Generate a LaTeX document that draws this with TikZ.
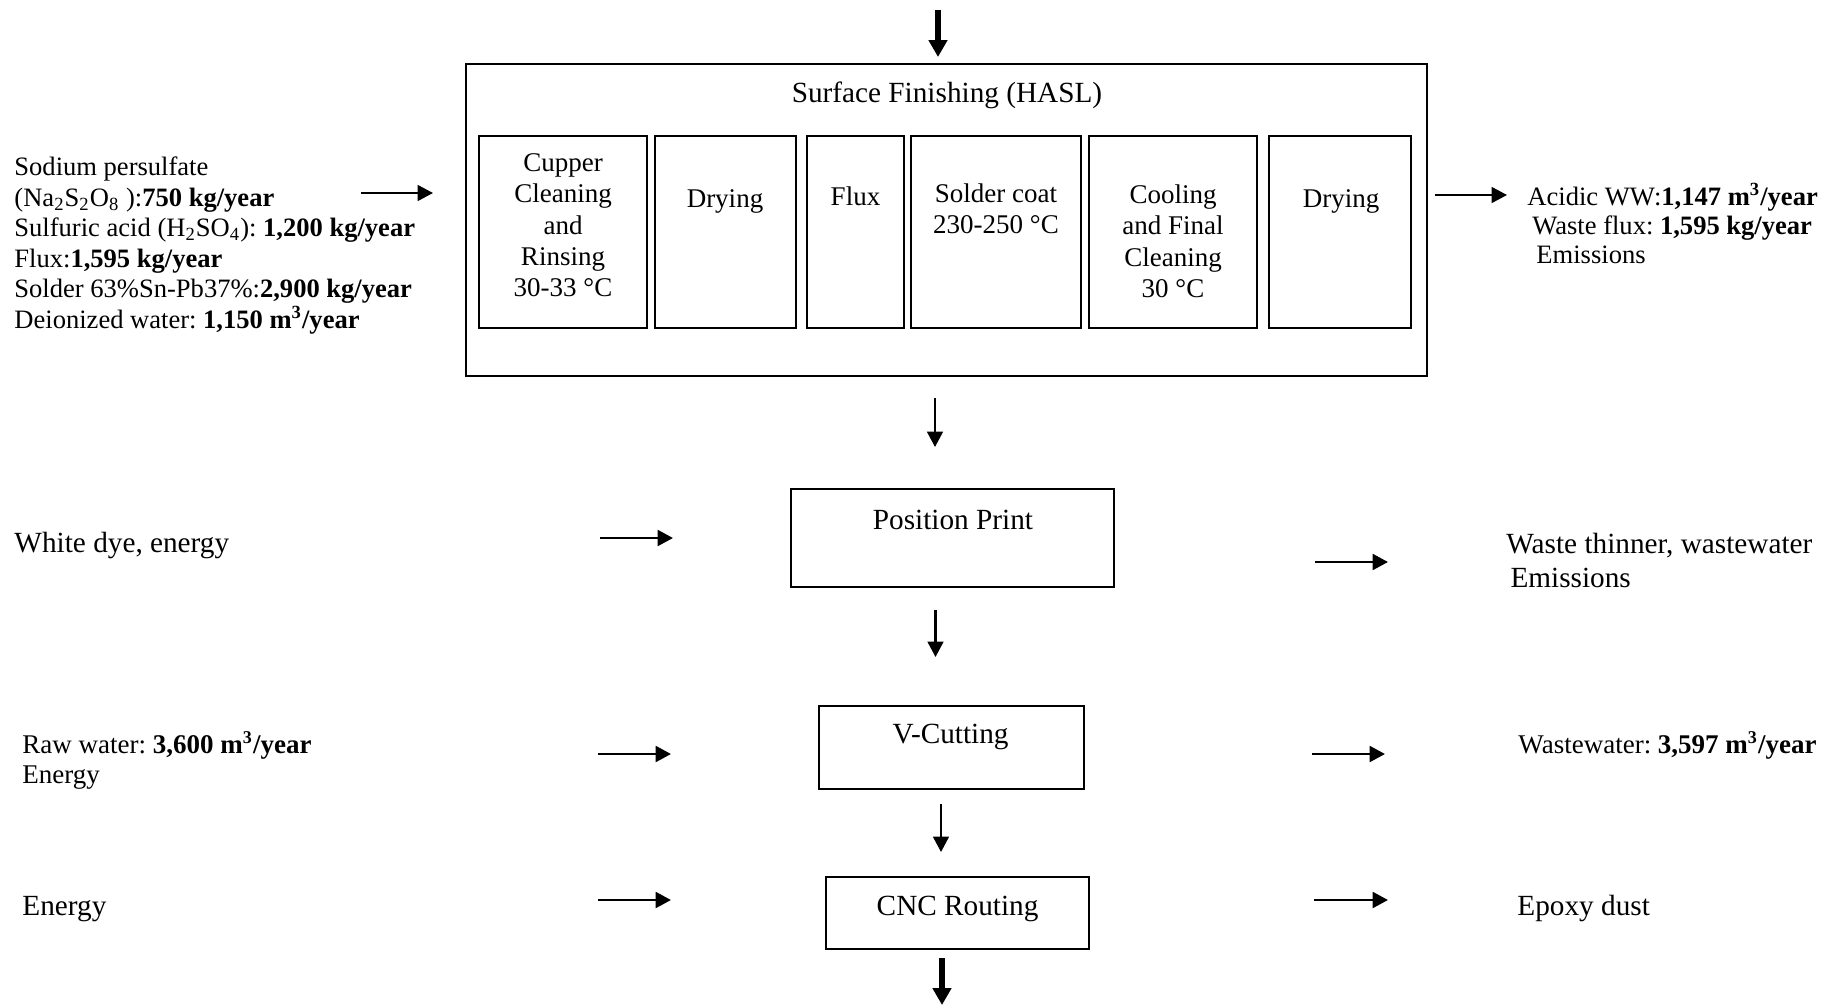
\documentclass[tikz,border=0pt]{standalone}
\usepackage{fontspec}
\setmainfont{Liberation Serif}
\usetikzlibrary{arrows.meta,fit}
\frenchspacing
% struts that fix the height of a first line (12pt and 13pt text)
\newcommand\tstrut{\rule{0pt}{10.5pt}}
\newcommand\bstrut{\rule{0pt}{11.4pt}}
\tikzset{
  frame/.style={draw, line width=1.1pt, inner sep=0pt},
  txt/.style={inner sep=0pt, font=\fontsize{12}{13.8}\selectfont},
  big/.style={inner sep=0pt, font=\fontsize{13}{15}\selectfont},
  flow/.style={line width=0.9pt, -{Triangle[length=6.8pt,width=7pt]}},
  heavy/.style={line width=2.7pt, -{Triangle[length=7.5pt,width=8pt]}},
}
\begin{document}
\begin{tikzpicture}[x=0.4444pt,y=-0.4444pt]
\useasboundingbox (0,0) rectangle (1845,1005);

% ---- Surface finishing (HASL) block ----
\node[frame, fit={(466,64) (1427,376)}] (hasl) {};
\node[big, anchor=base] (haslt) at (947,102) {Surface Finishing (HASL)};

\node[frame, fit={(479,136) (647,328)}]  (s1) {};
\node[frame, fit={(655,136) (796,328)}]  (s2) {};
\node[frame, fit={(807,136) (904,328)}]  (s3) {};
\node[frame, fit={(911,136) (1081,328)}] (s4) {};
\node[frame, fit={(1089,136) (1257,328)}] (s5) {};
\node[frame, fit={(1269,136) (1411,328)}] (s6) {};

\node[txt, align=center, anchor=north, font=\fontsize{12}{13.9}\selectfont] (s1t) at (563,147.4)
  {\tstrut Cupper\\Cleaning\\and\\Rinsing\\30-33 °C};
\node[txt, anchor=base] (s2t) at (725,207) {Drying};
\node[txt, anchor=base] (s3t) at (855.5,205) {Flux};
\node[txt, align=center, anchor=north, font=\fontsize{12}{13.9}\selectfont] (s4t) at (996,178.4)
  {\tstrut Solder coat\\230-250 °C};
\node[txt, align=center, anchor=north, font=\fontsize{12}{13.9}\selectfont] (s5t) at (1173,179.4)
  {\tstrut Cooling\\and Final\\Cleaning\\30 °C};
\node[txt, anchor=base] (s6t) at (1341,207) {Drying};

% inputs and outputs of HASL
\node[txt, align=left, anchor=north west, font=\fontsize{11.8}{13.6}\selectfont] (haslin) at (14,151.4)
  {\tstrut Sodium persulfate\\
   (Na\textsubscript{2}S\textsubscript{2}O\textsubscript{8} ):\textbf{750 kg/year}\\
   Sulfuric acid (H\textsubscript{2}SO\textsubscript{4}): \textbf{1,200 kg/year}\\
   Flux:\textbf{1,595 kg/year}\\
   Solder 63\%Sn-Pb37\%:\textbf{2,900 kg/year}\\
   Deionized water: \textbf{1,150 m\textsuperscript{3}/year}};
\node[txt, align=left, anchor=north west, font=\fontsize{11.8}{13}\selectfont] (haslout) at (1527,181.4)
  {\tstrut Acidic WW:\textbf{1,147 m\textsuperscript{3}/year}\\
   \hspace*{2.2pt}Waste flux: \textbf{1,595 kg/year}\\
   \hspace*{4pt}Emissions};

% ---- Position print ----
\node[frame, fit={(791,489) (1114,587)}] (pp) {};
\node[big, anchor=base] (ppt) at (953,529) {Position Print};
\node[big, anchor=base west] (ppin) at (14,552) {White dye, energy};
\node[big, align=left, anchor=north west, font=\fontsize{13}{14.9}\selectfont] (ppout) at (1506,527.4)
  {\bstrut Waste thinner, wastewater\\\hspace*{1.8pt}Emissions};

% ---- V-cutting ----
\node[frame, fit={(819,706) (1084,789)}] (vc) {};
\node[big, anchor=base] (vct) at (950.6,743) {V-Cutting};
\node[txt, align=left, anchor=north west, font=\fontsize{12}{13.3}\selectfont] (vcin) at (22,729.4)
  {\tstrut Raw water: \textbf{3,600 m\textsuperscript{3}/year}\\Energy};
\node[txt, anchor=base west] (vcout) at (1518,753) {Wastewater: \textbf{3,597 m\textsuperscript{3}/year}};

% ---- CNC routing ----
\node[frame, fit={(826,877) (1089,949)}] (cnc) {};
\node[big, anchor=base] (cnct) at (957.6,915) {CNC Routing};
\node[big, anchor=base west] (cncin) at (22,915) {Energy};
\node[big, anchor=base west] (cncout) at (1517,915) {Epoxy dust};

% ---- arrow end points ----
\coordinate (a0s) at (938,10);   \coordinate (a0e) at (938,57);
\coordinate (a1s) at (935,398);  \coordinate (a1e) at (935,447);
\coordinate (a2s) at (935.5,610); \coordinate (a2e) at (935.5,657);
\coordinate (a3s) at (941,804);  \coordinate (a3e) at (941,852);
\coordinate (a4s) at (942,958);  \coordinate (a4e) at (942,1005);

\coordinate (h1s) at (361,193);  \coordinate (h1e) at (433,193);
\coordinate (h2s) at (1435,195); \coordinate (h2e) at (1507,195);
\coordinate (p1s) at (600,538);  \coordinate (p1e) at (673,538);
\coordinate (p2s) at (1315,562); \coordinate (p2e) at (1388,562);
\coordinate (v1s) at (598,754);  \coordinate (v1e) at (671,754);
\coordinate (v2s) at (1312,754); \coordinate (v2e) at (1385,754);
\coordinate (c1s) at (598,900);  \coordinate (c1e) at (671,900);
\coordinate (c2s) at (1314,900); \coordinate (c2e) at (1388,900);

% ---- arrows ----
\draw[heavy] (a0s) -- (a0e);
\draw[flow]  (a1s) -- (a1e);
\draw[flow]  (a2s) -- (a2e);
\draw[flow]  (a3s) -- (a3e);
\draw[heavy] (a4s) -- (a4e);

\draw[flow] (h1s) -- (h1e);
\draw[flow] (h2s) -- (h2e);
\draw[flow, line width=1.2pt] (p1s) -- (p1e);
\draw[flow, line width=1.2pt] (p2s) -- (p2e);
\draw[flow, line width=1.2pt] (v1s) -- (v1e);
\draw[flow, line width=1.2pt] (v2s) -- (v2e);
\draw[flow, line width=1.2pt] (c1s) -- (c1e);
\draw[flow, line width=1.2pt] (c2s) -- (c2e);
\end{tikzpicture}
\end{document}
